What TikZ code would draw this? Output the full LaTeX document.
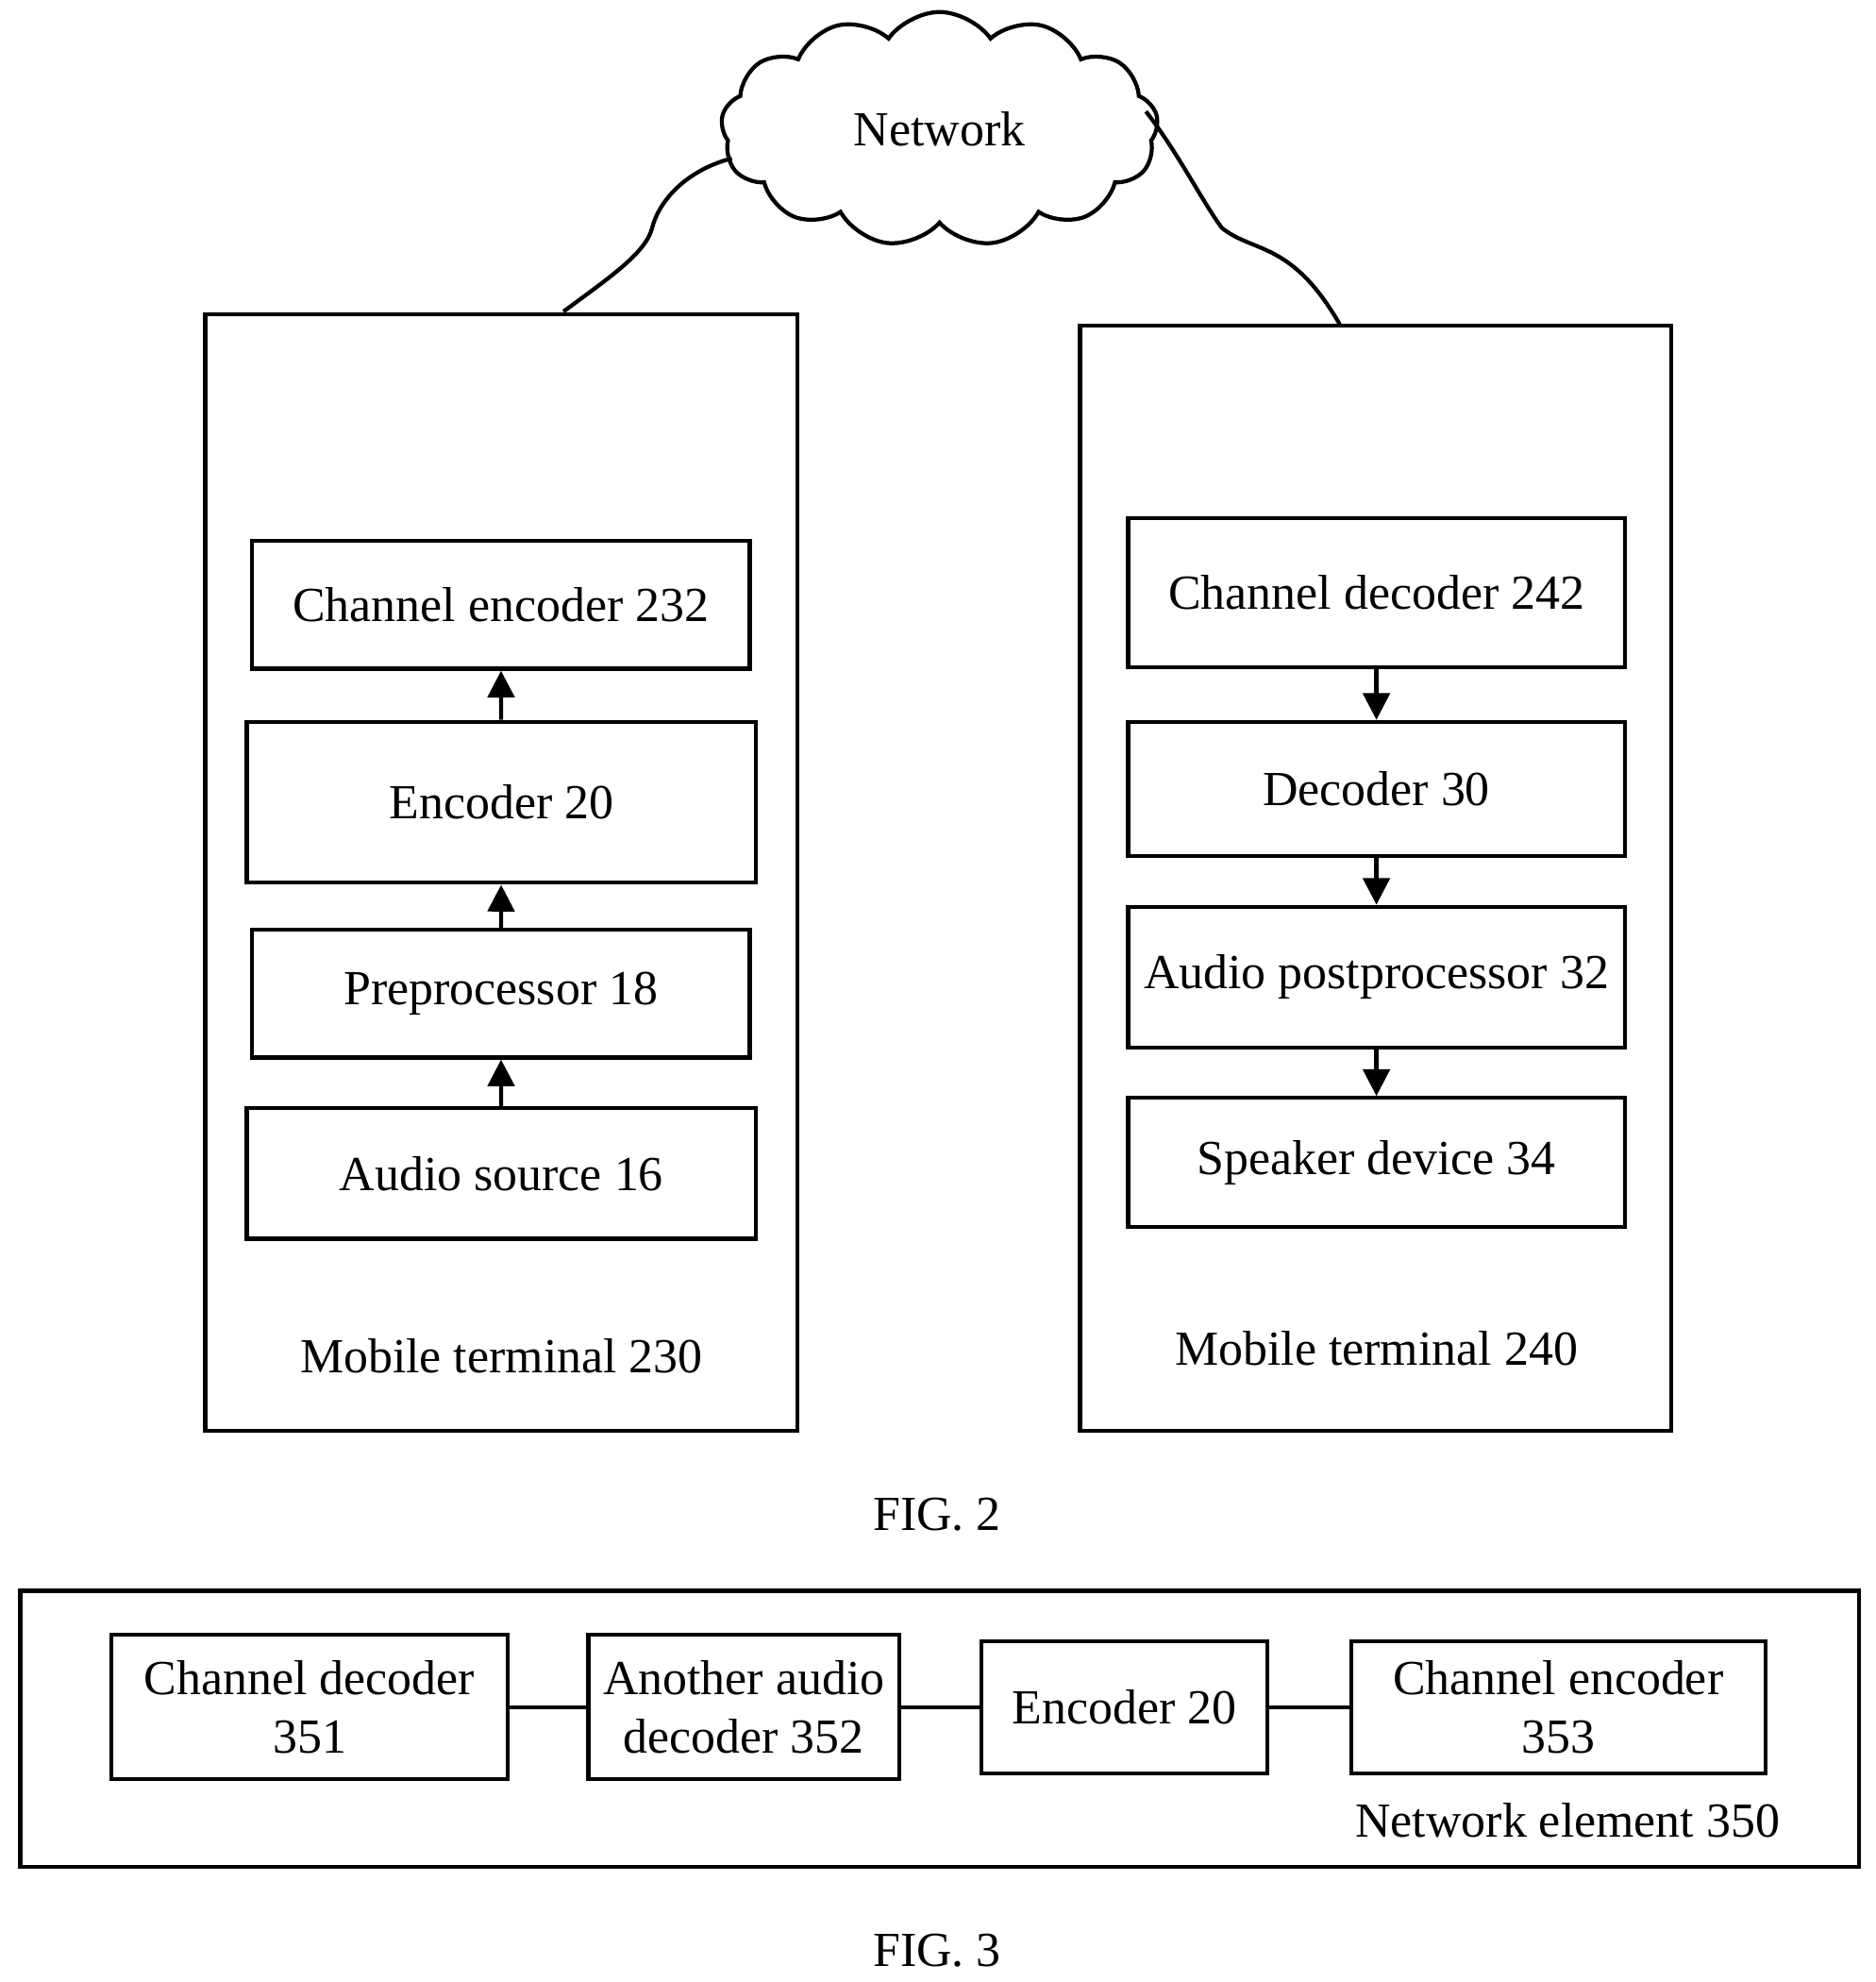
\documentclass[tikz,border=0pt]{standalone}
\usepackage{fontspec}
\setmainfont{Liberation Serif}
\usetikzlibrary{shapes.symbols,arrows.meta}
\begin{document}
\begin{tikzpicture}[x=0.01cm,y=-0.01cm,line width=0.9pt,
 box/.style={draw,rectangle,align=center,font=\fontsize{11}{13}\selectfont},
 lbl/.style={font=\fontsize{11}{13}\selectfont},
 arr/.style={-{Triangle[length=6pt,width=6pt]}}]
\useasboundingbox (0,0) rectangle (1481,1565);
% cloud
\node[cloud,draw,cloud puffs=13,cloud puff arc=110,aspect=2,minimum width=345\pgflinewidth*0+3.45cm,minimum height=1.85cm,lbl] (net) at (742,102) {Network};
\coordinate (cl) at (578,125);
\coordinate (cr) at (905,88);
% FIG 2 boxes
\draw (162,248) rectangle (630,1130);
\draw (853,257) rectangle (1320,1130);
\coordinate (t1) at (445,246);
\coordinate (t2) at (1058,256);
\draw (cl) .. controls (540,135) and (520,160) .. (515,180) .. controls (510,200) and (480,220) .. (t1);
\draw (cr) .. controls (930,120) and (950,160) .. (965,180) .. controls (990,200) and (1020,190) .. (t2);
\node[box,minimum width=3.93cm,minimum height=1.01cm] (ce) at (395.5,477.5) {Channel encoder 232};
\node[box,minimum width=4.02cm,minimum height=1.27cm] (en) at (396,633.5) {Encoder 20};
\node[box,minimum width=3.93cm,minimum height=1.01cm] (pp) at (395.5,784.5) {Preprocessor 18};
\node[box,minimum width=4.02cm,minimum height=1.03cm] (as) at (396,926.5) {Audio source 16};
\draw[arr] (as) -- (pp);
\draw[arr] (pp) -- (en);
\draw[arr] (en) -- (ce);
\node[box,minimum width=3.92cm,minimum height=1.18cm] (cd) at (1087,468) {Channel decoder 242};
\node[box,minimum width=3.92cm,minimum height=1.06cm] (de) at (1087,623) {Decoder 30};
\node[box,minimum width=3.92cm,minimum height=1.11cm] (ap) at (1087,771.5) {Audio postprocessor 32};
\node[box,minimum width=3.92cm,minimum height=1.02cm] (sp) at (1087,918) {Speaker device 34};
\draw[arr] (cd) -- (de);
\draw[arr] (de) -- (ap);
\draw[arr] (ap) -- (sp);
\node[lbl] (m230) at (396,1071) {Mobile terminal 230};
\node[lbl] (m240) at (1087,1065) {Mobile terminal 240};
\node[lbl] (f2) at (740,1196) {FIG. 2};
% FIG 3
\draw (16,1256) rectangle (1468,1474);
\node[box,minimum width=3.13cm,minimum height=1.14cm] (b1) at (244.5,1348) {Channel decoder\\351};
\node[box,minimum width=2.37cm,minimum height=1.14cm] (b2) at (587.5,1348) {Another audio\\decoder 352};
\node[box,minimum width=2.26cm,minimum height=1.04cm] (b3) at (888,1348) {Encoder 20};
\node[box,minimum width=3.27cm,minimum height=1.04cm] (b4) at (1230.5,1348) {Channel encoder\\353};
\draw (b1) -- (b2); \draw (b2) -- (b3); \draw (b3) -- (b4);
\node[lbl] (ne) at (1238,1437) {Network element 350};
\node[lbl] (f3) at (740,1540) {FIG. 3};
\end{tikzpicture}
\end{document}
